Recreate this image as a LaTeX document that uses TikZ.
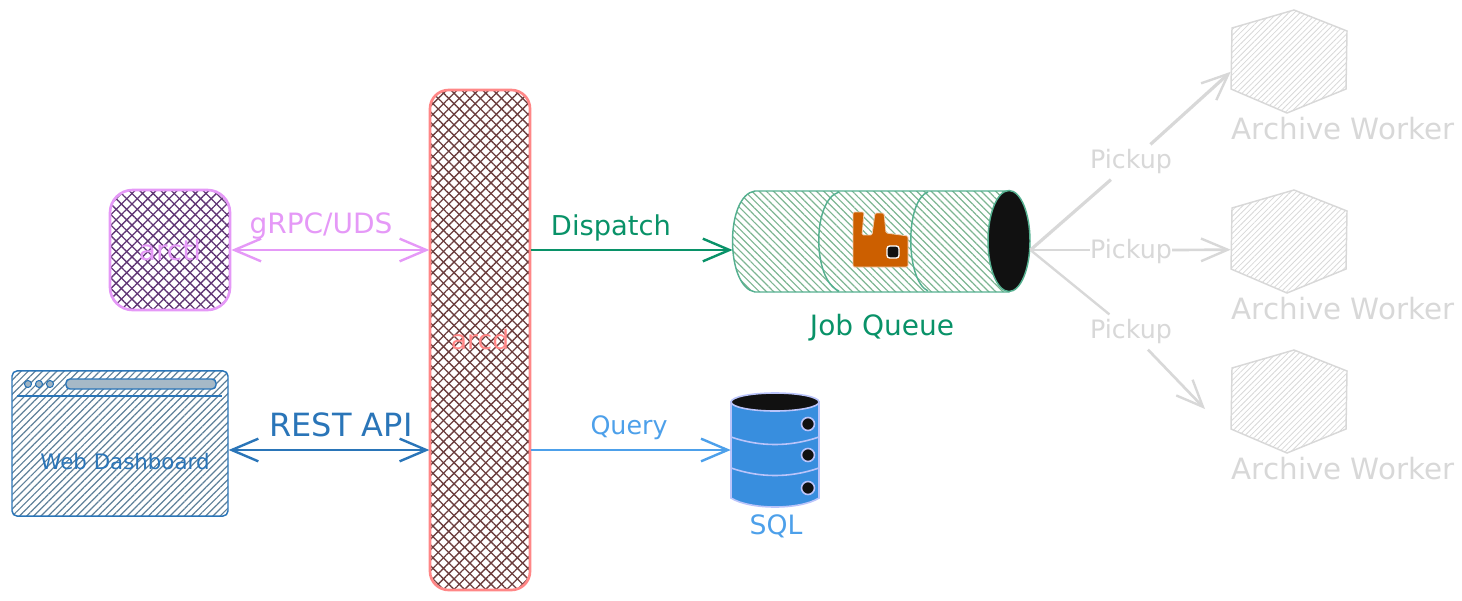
\documentclass[tikz,border=0pt]{standalone}
\usepackage{fontspec}
\setmainfont{DejaVu Sans}
\usetikzlibrary{arrows.meta,patterns.meta}

\definecolor{arcdred}{HTML}{FF8787}
\definecolor{arcdhatch}{HTML}{6B3D3D}
\definecolor{arctlpurple}{HTML}{E599F7}
\definecolor{arctlhatch}{HTML}{5F3574}
\definecolor{webblue}{HTML}{2A75B8}
\definecolor{webhatch}{HTML}{5E8099}
\definecolor{queuegreen}{HTML}{099268}
\definecolor{queueline}{HTML}{55B090}
\definecolor{queuehatch}{HTML}{7DB592}
\definecolor{sqlblue}{HTML}{4DA0EA}
\definecolor{sqlfill}{HTML}{388EDE}
\definecolor{sqlline}{HTML}{BAC4FA}
\definecolor{rabbit}{HTML}{CC5F00}
\definecolor{workergrey}{HTML}{D8D8D8}
\definecolor{inkblack}{HTML}{111111}

\tikzset{
    cross/.style={pattern={Lines[angle=45,distance=5.6pt,line width=1pt]}, pattern color=#1,
        preaction={pattern={Lines[angle=-45,distance=5.6pt,line width=1pt]}, pattern color=#1}},
    plainbox/.style={rectangle, inner sep=0pt},
    flow/.style={line width=2pt, -{Straight Barb[length=20pt,width=17pt,line width=1.8pt]}},
    bothflow/.style={line width=2pt, {Straight Barb[length=20pt,width=17pt,line width=1.8pt]}-{Straight Barb[length=20pt,width=17pt,line width=1.8pt]}},
    tag/.style={font=\fontsize{#1}{24}\selectfont, inner sep=1pt},
    workerlabel/.style={font=\fontsize{22}{24}\selectfont, text=workergrey},
    pickup/.style={font=\fontsize{19}{21}\selectfont, text=workergrey, fill=white, inner sep=0pt, minimum height=26pt},
    pickupline/.style={draw=workergrey, line width=1.8pt}
}

\begin{document}
\begin{tikzpicture}[x=.75pt, y=-.75pt]
    \useasboundingbox (0,0) rectangle (1462,600);

    % arcd
    \node[plainbox, draw=arcdred, line width=2pt, rounded corners=14pt, minimum width=75pt, minimum height=375pt,
        cross=arcdhatch, text=arcdred, tag=20] (arcd) at (480,340) {arcd};

    % arctl
    \node[plainbox, draw=arctlpurple, line width=2pt, rounded corners=17pt, minimum width=90pt, minimum height=90pt,
        cross=arctlhatch, text=arctlpurple, tag=21] (arctl) at (170,250) {arctl};

    % web dashboard
    \node[plainbox, draw=webblue, line width=1.1pt, rounded corners=4pt, minimum width=162pt, minimum height=109pt,
        pattern={Lines[angle=45,distance=3.8pt,line width=.9pt]}, pattern color=webhatch] (webdash) at (120,443.5) {};
    \node[text=webblue, tag=16, inner sep=0pt] (webname) at (125,462) {Web Dashboard};
    \draw[webblue, line width=1.1pt] (17,396) -- (222,396);
    \foreach \dotx in {28,39,50}
        \draw[webblue, line width=.8pt, fill=webhatch!60] (\dotx,384) circle (3.5);
    \draw[webblue, line width=1.1pt, rounded corners=3pt, fill=webhatch!55] (66,379) rectangle (216,389);

    % job queue, drawn over an empty node
    \node[plainbox, minimum width=223pt, minimum height=77pt] (queue) at (881.5,241) {};
    \draw[queueline, line width=1.1pt, pattern={Lines[angle=-45,distance=3.8pt,line width=.9pt]}, pattern color=queuehatch]
        (1009,191) -- (755,191) .. controls (725,195) and (725,287) .. (755,292) -- (1009,292) -- cycle;
    \draw[queueline, line width=1.1pt] (839,192) .. controls (812,200) and (812,280) .. (839,291);
    \draw[queueline, line width=1.1pt] (928,192) .. controls (905,200) and (905,280) .. (928,291);
    \draw[queueline, line width=1.1pt, fill=inkblack] (1009,241) ellipse (21 and 50.5);

    % rabbit logo
    \draw[fill=rabbit, draw=rabbit!30, line width=.6pt, rounded corners=1pt]
        (853,212) -- (864,212) -- (862,235) -- (872,235) -- (875,213) -- (884,213)
        -- (886,233) -- (908,236) -- (908,267) -- (853,267) -- cycle;
    \draw[fill=inkblack, draw=white, line width=1pt, rounded corners=2pt] (887,246) rectangle (899,258);
    \node[text=queuegreen, tag=21, inner sep=0pt] (queuename) at (882,328) {Job Queue};

    % sql
    \node[plainbox, minimum width=66pt, minimum height=84pt] (sql) at (775,449) {};
    \draw[sqlline, line width=1.2pt, fill=sqlfill]
        (731,402) -- (731,498) .. controls (750,510) and (800,510) .. (819,498) -- (819,402) -- cycle;
    \draw[sqlline, line width=1.2pt] (731,437) .. controls (760,447) and (790,447) .. (819,437);
    \draw[sqlline, line width=1.2pt] (731,468) .. controls (760,478) and (790,478) .. (819,468);
    \draw[sqlline, line width=1.2pt, fill=inkblack] (775,402) ellipse (44 and 9);
    \foreach \doty in {424,455,488}
        \draw[sqlline, line width=1.2pt, fill=inkblack] (808,\doty) circle (6.5);
    \node[text=sqlblue, tag=20, inner sep=0pt] (sqlname) at (776,526) {SQL};

    % archive workers
    \foreach \workery/\workername in {10/workerA, 190/workerB, 350/workerC} {
        \node[plainbox, minimum width=87pt, minimum height=77pt] (\workername) at (1289,\workery+51.5) {};
        \draw[workergrey, line width=1.1pt, pattern={Lines[angle=45,distance=3pt,line width=.6pt]}, pattern color=workergrey]
            (1232,\workery+18) -- (1294,\workery) -- (1347,\workery+21) -- (1346,\workery+79) -- (1287,\workery+103) -- (1231,\workery+79) -- cycle;
        \node[workerlabel, inner sep=0pt] (\workername name) at (1343,\workery+119) {Archive Worker};
    }

    % labels
    \node[tag=21, text=arctlpurple] (grpc) at (321,226) {gRPC/UDS};
    \node[tag=24, text=webblue] (rest) at (341,425) {REST API};
    \node[tag=20.5, text=queuegreen] (dispatch) at (611,228) {Dispatch};
    \node[tag=19, text=sqlblue] (query) at (629,428) {Query};
    \node[pickup] (pickA) at (1131,162) {Pickup};
    \node[pickup] (pickB) at (1131,252) {Pickup};
    \node[pickup] (pickC) at (1131,332) {Pickup};

    % connectors
    \coordinate (restlevel) at (480,450);
    \coordinate (dispatchlevel) at (480,250);
    \coordinate (workerCtip) at (1205,409);
    \draw[bothflow, arctlpurple] (arctl.east) -- (arcd.west |- arctl);
    \draw[bothflow, webblue] (webdash.east |- restlevel) -- (arcd.west |- restlevel);
    \draw[flow, queuegreen] (arcd.east |- dispatchlevel) -- (queue.west |- dispatchlevel);
    \draw[flow, sqlblue] (arcd.east |- restlevel) -- (sql.west |- restlevel);
    \draw[pickupline, line width=2.4pt] (queue.east |- dispatchlevel) -- (pickA);
    \draw[pickupline] (queue.east |- dispatchlevel) -- (pickB.west |- dispatchlevel);
    \draw[pickupline] (queue.east |- dispatchlevel) -- (pickC);
    \draw[flow, workergrey, line width=2.4pt] (pickA) -- (workerA.190);
    \draw[flow, workergrey] (pickB.east |- dispatchlevel) -- (workerB.188);
    \draw[flow, workergrey] (pickC) -- (workerCtip);
\end{tikzpicture}
\end{document}
